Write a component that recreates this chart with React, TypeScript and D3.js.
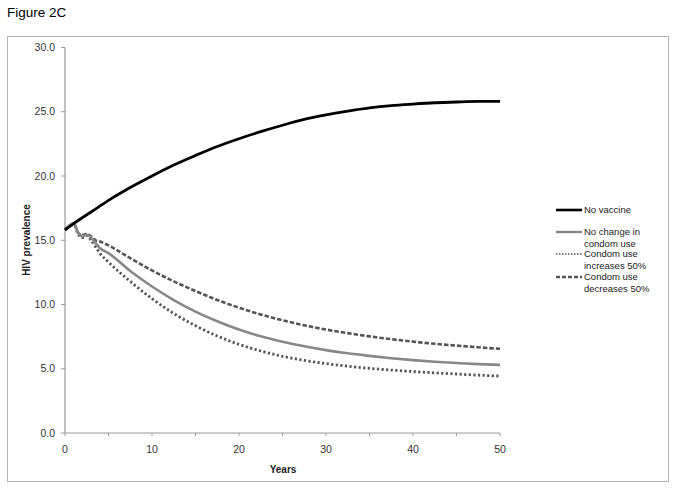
import React from 'react';
import * as d3 from 'd3';

const years = [0, 1, 1.5, 2, 2.5, 3, 3.5, 4, 5, 7.5, 10, 12.5, 15, 17.5, 20, 22.5, 25, 27.5, 30, 32.5, 35, 37.5, 40, 42.5, 45, 47.5, 50];
const blackYears = [0, 1, 3, 5, 7.5, 10, 12.5, 15, 17.5, 20, 22.5, 25, 27.5, 30, 32.5, 35, 37.5, 40, 42.5, 45, 47.5, 50];
const noVaccine = [15.8, 16.3, 17.2, 18.1, 19.1, 20.0, 20.85, 21.6, 22.3, 22.9, 23.45, 23.95, 24.4, 24.75, 25.05, 25.3, 25.48, 25.6, 25.7, 25.76, 25.8, 25.8];
const noChange = [15.8, 16.3, 15.6, 15.3, 15.45, 15.2, 14.8, 14.4, 14.0, 12.6, 11.4, 10.35, 9.45, 8.7, 8.05, 7.52, 7.1, 6.75, 6.45, 6.2, 6.0, 5.82, 5.67, 5.55, 5.45, 5.36, 5.3];
const condomUp = [15.8, 16.3, 15.5, 15.2, 15.35, 15.0, 14.5, 14.0, 13.3, 11.8, 10.45, 9.3, 8.35, 7.55, 6.9, 6.38, 5.97, 5.65, 5.4, 5.2, 5.03, 4.9, 4.78, 4.68, 4.59, 4.5, 4.43];
const condomDown = [15.8, 16.3, 15.6, 15.4, 15.5, 15.3, 15.0, 14.9, 14.6, 13.6, 12.65, 11.8, 11.05, 10.35, 9.75, 9.22, 8.77, 8.38, 8.05, 7.77, 7.52, 7.3, 7.11, 6.94, 6.8, 6.67, 6.55];

const yTicks = [0, 5, 10, 15, 20, 25, 30];
const xTicks = [0, 10, 20, 30, 40, 50];
const xMinor = [5, 15, 25, 35, 45];

const font = '"Liberation Sans Narrow", "Liberation Sans", Arial, sans-serif';

const x = d3.scaleLinear().domain([0, 50]).range([65, 500]);
const y = d3.scaleLinear().domain([0, 30]).range([433, 47.5]);

const line = d3
  .line<[number, number]>()
  .x((d) => x(d[0]))
  .y((d) => y(d[1]))
  .curve(d3.curveMonotoneX);

const series = [
  {name: 'condomUp', xs: years, vals: condomUp, color: '#555', width: 2.8, dash: '2.2,2.4'},
  {name: 'condomDown', xs: years, vals: condomDown, color: '#555', width: 2.6, dash: '4.5,2'},
  {name: 'noChange', xs: years, vals: noChange, color: '#888', width: 2.6, dash: null},
  {name: 'noVaccine', xs: blackYears, vals: noVaccine, color: '#000', width: 2.8, dash: null},
];

const legend = [
  {lines: ['No vaccine'], color: '#000', width: 2.6, dash: null, y: 210},
  {lines: ['No change in', 'condom use'], color: '#888', width: 2.4, dash: null, y: 232},
  {lines: ['Condom use', 'increases 50%'], color: '#555', width: 1.6, dash: '1.5,1.5', y: 254},
  {lines: ['Condom use', 'decreases 50%'], color: '#555', width: 2.4, dash: '4,2', y: 277},
];

export default function App() {
  return (
    <svg width={676} height={493} style={{position: 'absolute', left: 0, top: 0, background: '#fff'}}>
      <text x={7} y={17} fontFamily="Arial, 'Liberation Sans', sans-serif" fontSize={13.5} fill="#000">
        Figure 2C
      </text>
      <rect x={7.5} y={36.5} width={661} height={445} fill="none" stroke="#b5b5b5" strokeWidth={1} />

      {/* axes */}
      <line x1={x(0)} x2={x(0)} y1={y(30)} y2={y(0)} stroke="#999" strokeWidth={1.2} />
      <line x1={x(0)} x2={x(50)} y1={y(0)} y2={y(0)} stroke="#999" strokeWidth={1.2} />
      {yTicks.map((t) => (
        <g key={'y' + t}>
          <line x1={x(0) - 4} x2={x(0)} y1={y(t)} y2={y(t)} stroke="#999" />
          <text x={55} y={y(t)} dy="0.35em" textAnchor="end" fontFamily={font} fontSize={10.5} fill="#333">
            {t.toFixed(1)}
          </text>
        </g>
      ))}
      {xTicks.concat(xMinor).map((t) => (
        <line key={'xt' + t} x1={x(t)} x2={x(t)} y1={y(0)} y2={y(0) + 3} stroke="#999" />
      ))}
      {xTicks.map((t) => (
        <text key={'xl' + t} x={x(t)} y={449} dy="0.35em" textAnchor="middle" fontFamily={font} fontSize={10.5} fill="#333">
          {t}
        </text>
      ))}
      <text x={283} y={469} dy="0.35em" textAnchor="middle" fontFamily={font} fontSize={10} fontWeight="bold" fill="#222">
        Years
      </text>
      <text
        transform="translate(26,240) rotate(-90)"
        textAnchor="middle"
        dy="0.35em"
        fontFamily={font}
        fontSize={10}
        fontWeight="bold"
        fill="#222">
        HIV prevalence
      </text>

      {/* data */}
      {series.map((s) => (
        <path
          key={s.name}
          d={line(s.xs.map((v, i) => [v, s.vals[i]] as [number, number])) || ''}
          fill="none"
          stroke={s.color}
          strokeWidth={s.width}
          strokeDasharray={s.dash || undefined}
        />
      ))}

      {/* legend */}
      {legend.map((l, i) => (
        <g key={'lg' + i}>
          <line x1={556} x2={582} y1={l.y} y2={l.y} stroke={l.color} strokeWidth={l.width} strokeDasharray={l.dash || undefined} />
          {l.lines.map((t, j) => (
            <text key={j} x={584} y={l.y + j * 11.5} dy="0.35em" fontFamily={font} fontSize={9.5} fill="#222">
              {t}
            </text>
          ))}
        </g>
      ))}
    </svg>
  );
}
